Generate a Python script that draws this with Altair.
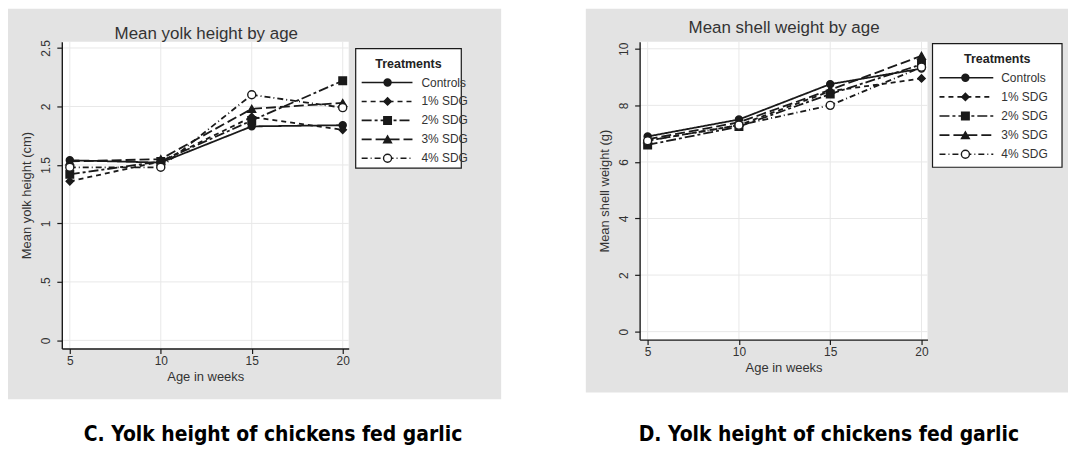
import altair as alt
import pandas as pd

# ---------------- data ----------------
weeks = [5, 10, 15, 20]
treatments = ["Controls", "1% SDG", "2% SDG", "3% SDG", "4% SDG"]

yolk_controls = [1.54, 1.52, 1.83, 1.84]
yolk_sdg1 = [1.36, 1.53, 1.91, 1.80]
yolk_sdg2 = [1.42, 1.53, 1.88, 2.22]
yolk_sdg3 = [1.53, 1.55, 1.98, 2.03]
yolk_sdg4 = [1.48, 1.48, 2.10, 1.99]

shell_controls = [6.90, 7.50, 8.75, 9.30]
shell_sdg1 = [6.75, 7.30, 8.50, 8.95]
shell_sdg2 = [6.60, 7.25, 8.40, 9.45]
shell_sdg3 = [6.80, 7.40, 8.55, 9.75]
shell_sdg4 = [6.75, 7.30, 8.00, 9.35]

week_ticks = [5, 10, 15, 20]
yolk_ticks = [0, 0.5, 1, 1.5, 2, 2.5]
shell_ticks = [0, 2, 4, 6, 8, 10]

yolk_title = "Mean yolk height by age"
shell_title = "Mean shell weight by age"
yolk_ytitle = "Mean yolk height (cm)"
shell_ytitle = "Mean shell weight (g)"
x_title = "Age in weeks"
legend_title = "Treatments"
caption_c = "C. Yolk height of chickens fed garlic"
caption_d = "D. Yolk height of chickens fed garlic"

# ---------------- styles ----------------
FONT = "Liberation Sans"
CAP_FONT = "Liberation Sans Narrow, DejaVu Sans Condensed, Liberation Sans, sans-serif"
INK = "#1a1a1a"
TXT = "#333333"
GRAY = "#e3e3e3"
GRID = "#e8e8e8"
dash_range = [[1, 0], [5, 4], [10, 3, 3, 3], [10, 4], [6, 3, 1, 3]]
shape_range = ["circle", "diamond", "square", "triangle-up", "circle"]
fill_range = [INK, INK, INK, INK, "white"]
size_range = [50, 65, 50, 60, 50]

dash_scale = alt.Scale(domain=treatments, range=dash_range)
shape_scale = alt.Scale(domain=treatments, range=shape_range)
fill_scale = alt.Scale(domain=treatments, range=fill_range)
size_scale = alt.Scale(domain=treatments, range=size_range)

one = pd.DataFrame({"a": [0]})


def long_df(series):
    rows = []
    for t, vals in zip(treatments, series):
        for w, v in zip(weeks, vals):
            rows.append({"treatment": t, "week": w, "value": v})
    return pd.DataFrame(rows)


def panel(series, ydom, yticks, ytitle, title, title_pos, w, h, gray,
          caption, cap_pos, label_expr):
    df = long_df(series)
    xscale = alt.Scale(domain=[4.56, 20.33], nice=False, zero=False)
    yscale = alt.Scale(domain=ydom, nice=False, zero=False)
    xaxis = alt.Axis(values=week_ticks, title=x_title, grid=False,
                     domainColor=INK, domainWidth=1.4, tickColor=INK,
                     tickSize=5, tickWidth=1.2, labelFont=FONT,
                     labelFontSize=12, labelColor=TXT, labelPadding=2,
                     labelFlush=False, labelOverlap=False,
                     titleFont=FONT, titleFontSize=13,
                     titleFontWeight="normal", titleColor=TXT,
                     titlePadding=4, zindex=1)
    yaxis = alt.Axis(values=yticks, title=ytitle, grid=False,
                     domainColor=INK, domainWidth=1.4, tickColor=INK,
                     tickSize=5, tickWidth=1.2, labelFont=FONT,
                     labelFontSize=12, labelColor=TXT, labelPadding=4,
                     labelAngle=270, labelAlign="center", labelBaseline="bottom",
                     labelFlush=False, labelOverlap=False, labelExpr=label_expr,
                     titleFont=FONT, titleFontSize=13, titleFontWeight="normal",
                     titleColor=TXT, titlePadding=6, zindex=1)

    bg = alt.Chart(one).mark_rect(fill=GRAY).encode(
        x=alt.value(gray[0]), x2=alt.value(gray[1]),
        y=alt.value(gray[2]), y2=alt.value(gray[3]))
    plotbg = alt.Chart(one).mark_rect(fill="white").encode(
        x=alt.value(0), x2=alt.value(w), y=alt.value(0), y2=alt.value(h))
    ygrid = alt.Chart(pd.DataFrame({"v": yticks})).mark_rule(
        color=GRID, strokeWidth=1).encode(
        y=alt.Y("v:Q", scale=yscale, axis=yaxis))
    xgrid = alt.Chart(pd.DataFrame({"v": week_ticks})).mark_rule(
        color=GRID, strokeWidth=1).encode(
        x=alt.X("v:Q", scale=xscale, axis=xaxis))
    lines = alt.Chart(df).mark_line(color=INK, strokeWidth=1.8).encode(
        x=alt.X("week:Q", scale=xscale, axis=xaxis),
        y=alt.Y("value:Q", scale=yscale, axis=yaxis),
        strokeDash=alt.StrokeDash("treatment:N", scale=dash_scale, legend=None),
        detail="treatment:N")
    pts = alt.Chart(df).mark_point(stroke=INK, strokeWidth=1.4, opacity=1).encode(
        x=alt.X("week:Q", scale=xscale, axis=xaxis),
        y=alt.Y("value:Q", scale=yscale, axis=yaxis),
        shape=alt.Shape("treatment:N", scale=shape_scale, legend=None),
        fill=alt.Fill("treatment:N", scale=fill_scale, legend=None),
        size=alt.Size("treatment:N", scale=size_scale, legend=None))
    ttl = alt.Chart(pd.DataFrame({"t": [title]})).mark_text(
        font=FONT, fontSize=17, color=TXT, align="center",
        baseline="middle").encode(
        x=alt.value(title_pos[0]), y=alt.value(title_pos[1]), text="t:N")
    cap = alt.Chart(pd.DataFrame({"c": [caption]})).mark_text(
        font=CAP_FONT, fontWeight="bold", fontSize=21, color="black",
        align="center", baseline="middle").encode(
        x=alt.value(cap_pos[0]), y=alt.value(cap_pos[1]), text="c:N")
    return alt.layer(bg, plotbg, ygrid, xgrid, lines, pts, ttl, cap).properties(
        width=w, height=h)


def legend(w, h, box, ydom, title_x, line_x, mark_x, text_x):
    rows = pd.DataFrame({"treatment": treatments,
                         "row": list(range(1, len(treatments) + 1))})
    yscale = alt.Scale(domain=ydom, reverse=True, nice=False, zero=False)
    boxl = alt.Chart(one).mark_rect(fill="white", stroke=INK, strokeWidth=1.2).encode(
        x=alt.value(box[0]), x2=alt.value(box[1]),
        y=alt.value(box[2]), y2=alt.value(box[3]))
    head = alt.Chart(pd.DataFrame({"label": [legend_title], "row": [0]})).mark_text(
        font=FONT, fontSize=12.5, fontWeight="bold", color="#222",
        align="center", baseline="middle").encode(
        x=alt.value(title_x), y=alt.Y("row:Q", scale=yscale, axis=None),
        text="label:N")
    rules = alt.Chart(rows).mark_rule(color=INK, strokeWidth=1.6).encode(
        x=alt.value(line_x[0]), x2=alt.value(line_x[1]),
        y=alt.Y("row:Q", scale=yscale, axis=None),
        strokeDash=alt.StrokeDash("treatment:N", scale=dash_scale, legend=None))
    pts = alt.Chart(rows).mark_point(stroke=INK, strokeWidth=1.4, opacity=1).encode(
        x=alt.value(mark_x), y=alt.Y("row:Q", scale=yscale, axis=None),
        shape=alt.Shape("treatment:N", scale=shape_scale, legend=None),
        fill=alt.Fill("treatment:N", scale=fill_scale, legend=None),
        size=alt.Size("treatment:N", scale=size_scale, legend=None))
    labels = alt.Chart(rows).mark_text(
        font=FONT, fontSize=12, color=TXT, align="left", baseline="middle").encode(
        x=alt.value(text_x), y=alt.Y("row:Q", scale=yscale, axis=None),
        text="treatment:N")
    return alt.layer(boxl, head, rules, pts, labels).properties(width=w, height=h)


plot_c = panel([yolk_controls, yolk_sdg1, yolk_sdg2, yolk_sdg3, yolk_sdg4],
               [-0.07, 2.554], yolk_ticks, yolk_ytitle, yolk_title, (145, -8),
               288, 308, [-54, 441, -33, 359], caption_c, (212, 395),
               "datum.value == 0.5 ? '.5' : '' + datum.value")
leg_c = legend(282, 130, [2, 108, 7, 127], [-1.158, 5.684], 55, [8, 59], 34, 68)

plot_d = panel([shell_controls, shell_sdg1, shell_sdg2, shell_sdg3, shell_sdg4],
               [-0.28, 10.25], shell_ticks, shell_ytitle, shell_title, (145, -14),
               289, 299, [-54, 430, -33, 352], caption_d, (190, 395),
               "'' + datum.value")
leg_d = legend(130, 130, [0, 130, 2, 126], [-0.885, 5.885], 65, [7, 61], 33, 69)

chart = alt.hconcat(plot_c, leg_c, plot_d, leg_d, spacing=5, bounds="flush").configure_view(
    strokeWidth=0).properties(padding=0, background="white")

chart.save("out.html", embed_options={"renderer": "svg", "actions": False})
